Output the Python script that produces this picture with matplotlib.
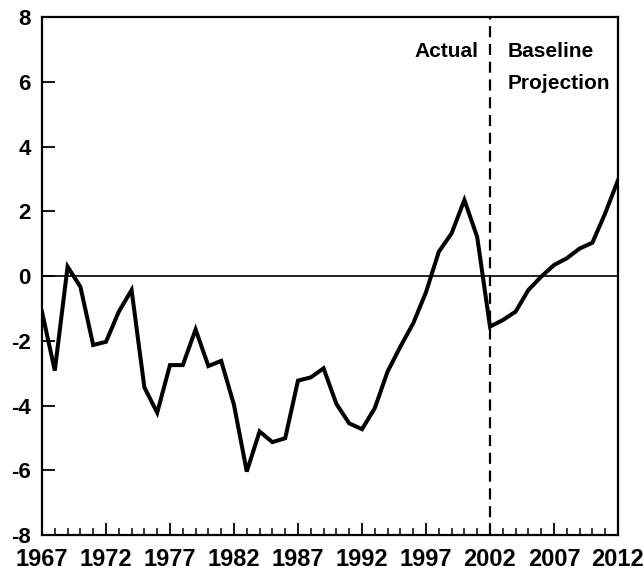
import matplotlib.pyplot as plt
import numpy as np

# donnees
years = np.arange(1967, 2013)
values = [-1.1, -2.92, 0.29, -0.33, -2.13, -2.03, -1.1, -0.43, -3.44, -4.22,
          -2.75, -2.75, -1.65, -2.78, -2.62, -3.98, -6.04, -4.8, -5.13, -5.01,
          -3.23, -3.13, -2.85, -3.95, -4.55, -4.73, -4.08, -2.95, -2.18, -1.46,
          -0.5, 0.75, 1.32, 2.35, 1.21, -1.56, -1.36, -1.1, -0.43, -0.02,
          0.34, 0.55, 0.85, 1.03, 1.94, 2.96]
split_year = 2002
xticks = [1967, 1972, 1977, 1982, 1987, 1992, 1997, 2002, 2007, 2012]
yticks = [-8, -6, -4, -2, 0, 2, 4, 6, 8]

plt.rcParams['font.family'] = ['Liberation Sans', 'DejaVu Sans']
plt.rcParams['font.weight'] = 'bold'

fig = plt.figure(figsize=(6.44, 5.71), dpi=100)
ax = fig.add_axes([0.0652, 0.063, 0.8944, 0.907])

ax.plot(years, values, color='black', linewidth=2.9, solid_joinstyle='miter')
ax.axhline(0, color='black', linewidth=1.2)
ax.axvline(split_year, color='black', linewidth=1.6, linestyle=(0, (5, 3)))

ax.set_xlim(1967, 2012)
ax.set_ylim(-8, 8)
ax.set_xticks(xticks)
ax.set_xticks(years, minor=True)
ax.set_yticks(yticks)
ax.set_yticklabels([str(v) for v in yticks], fontsize=16, fontweight='bold')
ax.set_xticklabels([str(v) for v in xticks], fontsize=17, fontweight='bold')

ax.tick_params(axis='both', which='major', direction='in', length=9, width=1.3)
ax.tick_params(axis='x', which='minor', direction='in', length=5, width=1.1)
ax.tick_params(axis='y', pad=8)
ax.tick_params(axis='x', pad=9)
for s in ax.spines.values():
    s.set_linewidth(1.6)

ax.text(2001.1, 6.95, "Actual", ha='right', va='center', fontsize=15, fontweight='bold')
ax.text(2003.4, 6.95, "Baseline", ha='left', va='center', fontsize=15, fontweight='bold')
ax.text(2003.4, 5.95, "Projection", ha='left', va='center', fontsize=15, fontweight='bold')

fig.savefig('out.png', dpi=100)
